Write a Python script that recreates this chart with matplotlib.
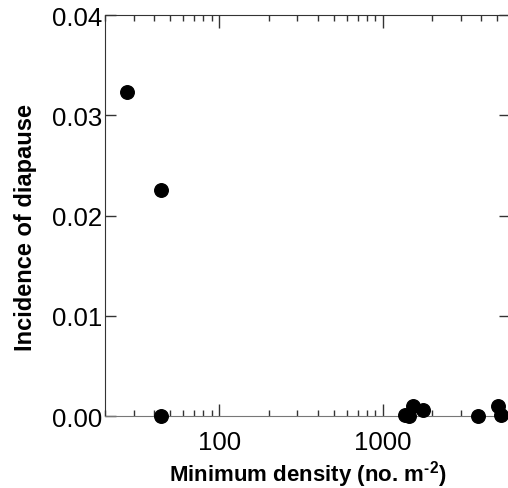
import matplotlib.pyplot as plt
from matplotlib.ticker import LogLocator, NullFormatter, FixedLocator

plt.rcParams['font.family'] = ['Liberation Sans', 'DejaVu Sans']
plt.rcParams['mathtext.fontset'] = 'custom'
plt.rcParams['mathtext.rm'] = 'Liberation Sans:bold'
plt.rcParams['mathtext.bf'] = 'Liberation Sans:bold'

# data
min_density = [27.1, 44.3, 44.3, 1362, 1442, 1524, 1754, 3794, 5024, 5248]
diapause = [0.0323, 0.02254, 0.0, 0.00013, 0.0, 0.00103, 0.0006, 0.0, 0.00097, 0.0001]

fig = plt.figure(figsize=(5.08, 4.89), dpi=100)
ax = fig.add_axes([0.2067, 0.1472, 0.7975, 0.8196])

ax.scatter(min_density, diapause, s=95, color='black', zorder=3, clip_on=False)

ax.set_xscale('log')
ax.set_xlim(20, 6000)
ax.set_ylim(0, 0.04)

ax.xaxis.set_major_locator(FixedLocator([100, 1000]))
ax.xaxis.set_minor_locator(LogLocator(base=10, subs=range(2, 10), numticks=20))
ax.xaxis.set_minor_formatter(NullFormatter())
ax.set_xticklabels(['100', '1000'])
ax.set_yticks([0.0, 0.01, 0.02, 0.03, 0.04])
ax.set_yticklabels(['0.00', '0.01', '0.02', '0.03', '0.04'])

ax.tick_params(axis='both', which='both', direction='in', top=True, right=True,
               labelsize=18.5, color='#333333', width=1)
ax.tick_params(axis='x', which='major', length=9, pad=10)
ax.tick_params(axis='x', which='minor', length=4.5)
ax.tick_params(axis='y', which='major', length=8, pad=2)

for side in ['left', 'top']:
    ax.spines[side].set_color('#333333')
ax.spines['bottom'].set_color('#777777')
ax.spines['right'].set_visible(False)

ax.set_xlabel('Minimum density (no. m$^{\\text{-2}}$)', fontsize=16,
              fontweight='bold', labelpad=3)
ax.set_ylabel('Incidence of diapause', fontsize=17, fontweight='bold')
# label sits a little below the axes centre in the reference
ax.yaxis.set_label_coords(-0.169, 0.472)

fig.savefig('out.png', dpi=100)
